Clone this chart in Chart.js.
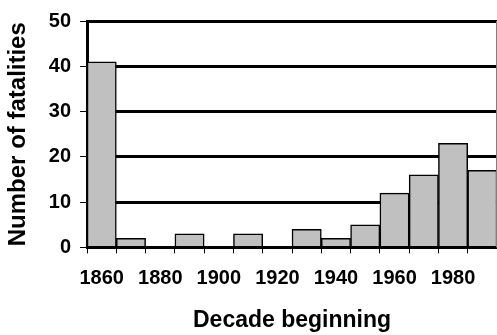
<!DOCTYPE html>
<html>
<head>
<meta charset="utf-8">
<script src="https://cdn.jsdelivr.net/npm/chart.js@4"></script>
<style>
  html, body { margin: 0; padding: 0; background: #fff; }
  #wrap { width: 497px; height: 335px; }
</style>
</head>
<body>
<div id="wrap"><canvas id="c"></canvas></div>
<script>
// decades (start year) and fatalities per decade
const decades = ['1860', '1870', '1880', '1890', '1900', '1910', '1920', '1930', '1940', '1950', '1960', '1970', '1980', '1990'];
const fatalities = [41, 2, 0, 3, 0, 3, 0, 4, 2, 5, 12, 16, 23, 17];
const yTicks = [0, 10, 20, 30, 40, 50];

// thin grey line on the right edge of the plot area
const rightEdge = {
    id: 'rightEdge',
    afterDraw(chart) {
        const a = chart.chartArea;
        const ctx = chart.ctx;
        ctx.save();
        ctx.strokeStyle = '#808080';
        ctx.lineWidth = 1;
        ctx.beginPath();
        ctx.moveTo(a.right - 0.5, a.top);
        ctx.lineTo(a.right - 0.5, a.bottom);
        ctx.stroke();
        ctx.restore();
    }
};

const FONT = 'Liberation Sans, Arial';

new Chart(document.getElementById('c'), {
    type: 'bar',
    data: {
        labels: decades,
        datasets: [{
            label: 'Fatalities',
            data: fatalities,
            backgroundColor: '#c0c0c0',
            borderColor: '#000',
            borderWidth: 1.5,
            categoryPercentage: 1,
            barPercentage: 1
        }]
    },
    options: {
        responsive: true,
        maintainAspectRatio: false,
        animation: false,
        layout: { padding: { top: 20, left: 4, right: 0, bottom: 1 } },
        plugins: {
            legend: { display: false },
            tooltip: { enabled: false }
        },
        scales: {
            x: {
                grid: {
                    offset: true,
                    drawOnChartArea: false,
                    drawTicks: true,
                    tickLength: 6,
                    tickColor: '#000',
                    tickWidth: 1
                },
                border: { display: false },
                ticks: {
                    autoSkip: false,
                    maxRotation: 0,
                    color: '#000',
                    padding: 13,
                    font: { family: FONT, size: 20, weight: 'bold' },
                    callback: (v, i) => (i % 2 === 0 ? decades[i] : '')
                },
                title: {
                    display: true,
                    text: 'Decade beginning',
                    color: '#000',
                    padding: { top: 3, bottom: 0 },
                    font: { family: FONT, size: 23, weight: 'bold' }
                }
            },
            y: {
                min: 0,
                max: 50,
                afterBuildTicks: axis => { axis.ticks = yTicks.map(v => ({ value: v })); },
                grid: {
                    color: '#000',
                    lineWidth: 3,
                    drawTicks: true,
                    tickLength: 7,
                    tickColor: '#000',
                    tickWidth: 1
                },
                border: { display: true, color: '#000', width: 3 },
                ticks: {
                    color: '#000',
                    padding: 9,
                    font: { family: FONT, size: 20, weight: 'bold' }
                },
                title: {
                    display: true,
                    text: 'Number of fatalities',
                    color: '#000',
                    padding: { top: 0, bottom: 7 },
                    font: { family: FONT, size: 24, weight: 'bold' }
                }
            }
        }
    },
    plugins: [rightEdge]
});
</script>
</body>
</html>
